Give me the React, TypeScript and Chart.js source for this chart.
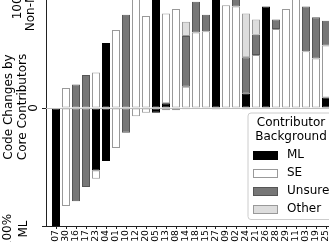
import React, { useEffect, useRef } from 'react';
import { Chart, registerables } from 'chart.js';

Chart.register(...registerables);

const categories = ['07', '30', '16', '17', '23', '04', '01', '10', '12', '20', '05', '13', '08', '14', '18', '15', '27', '09', '02', '24', '21', '26', '28', '29', '11', '03', '19', '25'];

// Share of Non-ML changes (drawn above zero), by contributor background, in %
const mlNonML = [0, 0, 0, 0, 0, 55, 0, 0, 0, 0, 96, 4, 0, 0, 0, 0, 95, 0, 0, 12, 0, 86, 0, 0, 0, 0, 0, 9];
const seNonML = [0, 17, 0, 0, 30, 0, 66, 0, 93, 78, 0, 76, 84, 18, 64, 65, 0, 87, 86, 0, 45, 0, 67, 84, 95, 48, 42, 44];
const unsureNonML = [0, 0, 20, 28, 0, 0, 0, 79, 0, 0, 0, 0, 0, 43, 26, 14, 0, 0, 8, 31, 17, 0, 8, 0, 0, 38, 35, 21];
const otherNonML = [0, 0, 0, 0, 0, 0, 0, 0, 0, 0, 0, 0, 0, 12, 0, 0, 0, 0, 0, 37, 13, 0, 0, 0, 0, 0, 0, 0];

// Share of ML changes (drawn below zero), by contributor background, in %
const mlML = [100, 0, 0, 0, 53, 45, 0, 0, 0, 0, 4, 0, 0, 0, 0, 0, 1, 0, 0, 1, 0, 0, 0, 0, 0, 0, 0, 0];
const seML = [0, 83, 0, 0, 7, 0, 34, 0, 7, 4, 0, 2, 2, 1, 0, 0, 0, 0, 0, 0, 0, 0, 0, 0, 0, 0, 0, 0];
const unsureML = [0, 0, 79, 67, 0, 0, 0, 21, 0, 0, 0, 0, 0, 0, 0, 0, 0, 0, 0, 0, 0, 0, 0, 0, 0, 0, 0, 0];
const otherML = [0, 0, 0, 0, 0, 0, 0, 0, 0, 0, 0, 0, 0, 0, 0, 0, 0, 0, 0, 0, 0, 0, 0, 0, 0, 0, 0, 0];

const groupLabels = ['ML', 'SE', 'Unsure', 'Other'];
const yTickValues = [-100, 0, 100];
const legendTitle = ['Contributor', 'Background'];
const yAxisTitle = ['Code Changes by', 'Core Contributors'];
const yTopLabel = ['100%', 'Non-ML'];
const yBottomLabel = ['100%', 'ML'];

const fillColors = ['#000000', '#ffffff', '#777777', '#dddddd'];
const edgeColors = ['#000000', '#999999', '#555555', '#999999'];

const FONT = '"DejaVu Sans", sans-serif';

function toPoints(vals: number[], sign: number) {
  return vals.map((v, i) => ({ x: i, y: v === 0 ? null : sign * v }));
}

function drawRotated(ctx: CanvasRenderingContext2D, text: string, cx: number, cy: number, align: CanvasTextAlign) {
  ctx.save();
  ctx.translate(cx, cy);
  ctx.rotate(-Math.PI / 2);
  ctx.textAlign = align;
  ctx.textBaseline = 'middle';
  ctx.fillText(text, 0, 0);
  ctx.restore();
}

const decorPlugin = {
  id: 'decor',
  afterDatasetsDraw(chart: any) {
    const { ctx, chartArea } = chart;
    const y = chart.scales.y;
    const zy = Math.round(y.getPixelForValue(0)) + 0.5;
    ctx.save();
    ctx.strokeStyle = '#bdbdbd';
    ctx.lineWidth = 1;
    ctx.beginPath();
    ctx.moveTo(chartArea.left, zy);
    ctx.lineTo(chartArea.right, zy);
    ctx.stroke();
    ctx.restore();
  },
  afterDraw(chart: any) {
    const { ctx, chartArea } = chart;
    const y = chart.scales.y;
    const left = chartArea.left;
    ctx.save();
    ctx.fillStyle = '#000000';
    ctx.font = `12px ${FONT}`;
    const zeroY = y.getPixelForValue(0);
    const topY = y.getPixelForValue(100);
    const botY = y.getPixelForValue(-100);
    // axis title
    drawRotated(ctx, yAxisTitle[0], left - 37, zeroY - 1, 'center');
    drawRotated(ctx, yAxisTitle[1], left - 23, zeroY - 1, 'center');
    // tick labels
    drawRotated(ctx, '0', left - 12, zeroY, 'center');
    drawRotated(ctx, yTopLabel[0], left - 28, topY - 5, 'right');
    drawRotated(ctx, yTopLabel[1], left - 15, topY - 4, 'right');
    drawRotated(ctx, yBottomLabel[0], left - 38, botY + 5, 'center');
    drawRotated(ctx, yBottomLabel[1], left - 22.5, botY + 3, 'center');

    // legend
    const boxR = chartArea.right - 2;
    const boxB = chartArea.bottom - 6.5;
    const boxW = 86;
    const boxH = 106.5;
    const boxL = boxR - boxW;
    const boxT = boxB - boxH;
    const r = 3;
    ctx.beginPath();
    ctx.moveTo(boxL + r, boxT);
    ctx.lineTo(boxR - r, boxT);
    ctx.quadraticCurveTo(boxR, boxT, boxR, boxT + r);
    ctx.lineTo(boxR, boxB - r);
    ctx.quadraticCurveTo(boxR, boxB, boxR - r, boxB);
    ctx.lineTo(boxL + r, boxB);
    ctx.quadraticCurveTo(boxL, boxB, boxL, boxB - r);
    ctx.lineTo(boxL, boxT + r);
    ctx.quadraticCurveTo(boxL, boxT, boxL + r, boxT);
    ctx.closePath();
    ctx.fillStyle = 'rgba(255,255,255,0.8)';
    ctx.fill();
    ctx.strokeStyle = '#cccccc';
    ctx.lineWidth = 1;
    ctx.stroke();

    ctx.fillStyle = '#000000';
    ctx.textAlign = 'center';
    ctx.textBaseline = 'alphabetic';
    const cx = boxL + boxW / 2;
    ctx.fillText(legendTitle[0], cx, boxT + 13);
    ctx.fillText(legendTitle[1], cx, boxT + 27);

    groupLabels.forEach((lab, i) => {
      const cy = boxT + 41.5 + i * 18;
      const px = Math.round(boxL + 4.5) + 0.5;
      const py = Math.round(cy - 4) + 0.5;
      ctx.fillStyle = fillColors[i];
      ctx.fillRect(px, py, 24, 8);
      ctx.strokeStyle = edgeColors[i];
      ctx.lineWidth = 1;
      ctx.strokeRect(px, py, 24, 8);
      ctx.fillStyle = '#000000';
      ctx.textAlign = 'left';
      ctx.textBaseline = 'middle';
      ctx.fillText(lab, boxL + 39, cy + 0.5);
    });
    ctx.restore();
  },
};

export default function App() {
  const ref = useRef<HTMLCanvasElement>(null);

  useEffect(() => {
    const canvas = ref.current;
    if (!canvas) return;
    Chart.defaults.font.family = FONT;

    const upSeries = [mlNonML, seNonML, unsureNonML, otherNonML];
    const downSeries = [mlML, seML, unsureML, otherML];
    const datasets: any[] = [];
    upSeries.forEach((vals, i) => {
      datasets.push({
        label: groupLabels[i],
        data: toPoints(vals, 1),
        backgroundColor: fillColors[i],
        borderColor: edgeColors[i],
        borderWidth: 1,
        borderSkipped: false,
        stack: 's',
        barPercentage: 0.8,
        categoryPercentage: 1,
      });
    });
    downSeries.forEach((vals, i) => {
      datasets.push({
        label: groupLabels[i] + ' (ML side)',
        data: toPoints(vals, -1),
        backgroundColor: fillColors[i],
        borderColor: edgeColors[i],
        borderWidth: 1,
        borderSkipped: false,
        stack: 's',
        barPercentage: 0.8,
        categoryPercentage: 1,
      });
    });

    const chart = new Chart(canvas, {
      type: 'bar',
      data: { datasets },
      options: {
        animation: false,
        responsive: false,
        devicePixelRatio: 1,
        layout: { padding: { top: 2, right: 14, bottom: 0, left: 0 } },
        plugins: {
          legend: { display: false },
          tooltip: { enabled: false },
        },
        scales: {
          x: {
            type: 'linear',
            min: -1,
            max: 28,
            offset: false,
            afterBuildTicks: (s: any) => {
              s.ticks = categories.map((_, i) => ({ value: i }));
            },
            afterFit: (s: any) => {
              s.height = 30;
            },
            ticks: {
              autoSkip: false,
              maxRotation: 90,
              minRotation: 90,
              padding: 1,
              color: '#000000',
              font: { size: 9.3, family: FONT },
              callback: (v: any) => categories[v as number],
            },
            grid: { display: true, offset: false, drawOnChartArea: false, drawTicks: true, tickLength: 3, color: '#222222' },
            border: { display: true, color: '#222222', width: 1 },
          },
          y: {
            min: -100,
            max: 100,
            stacked: true,
            afterBuildTicks: (s: any) => {
              s.ticks = yTickValues.map((v) => ({ value: v }));
            },
            afterFit: (s: any) => {
              s.width = 46;
            },
            ticks: { display: false },
            grid: { display: true, drawOnChartArea: false, drawTicks: true, tickLength: 4, color: '#222222' },
            border: { display: true, color: '#222222', width: 1 },
          },
        },
      },
      plugins: [decorPlugin],
    });

    return () => chart.destroy();
  }, []);

  return (
    <div style={{ position: 'fixed', left: 0, top: 0, width: 329, height: 242, overflow: 'hidden', background: '#ffffff' }}>
      <div style={{ position: 'absolute', left: 0, top: -12, width: 350, height: 268 }}>
        <canvas ref={ref} width={350} height={268} style={{ display: 'block', width: 350, height: 268 }} />
      </div>
    </div>
  );
}
